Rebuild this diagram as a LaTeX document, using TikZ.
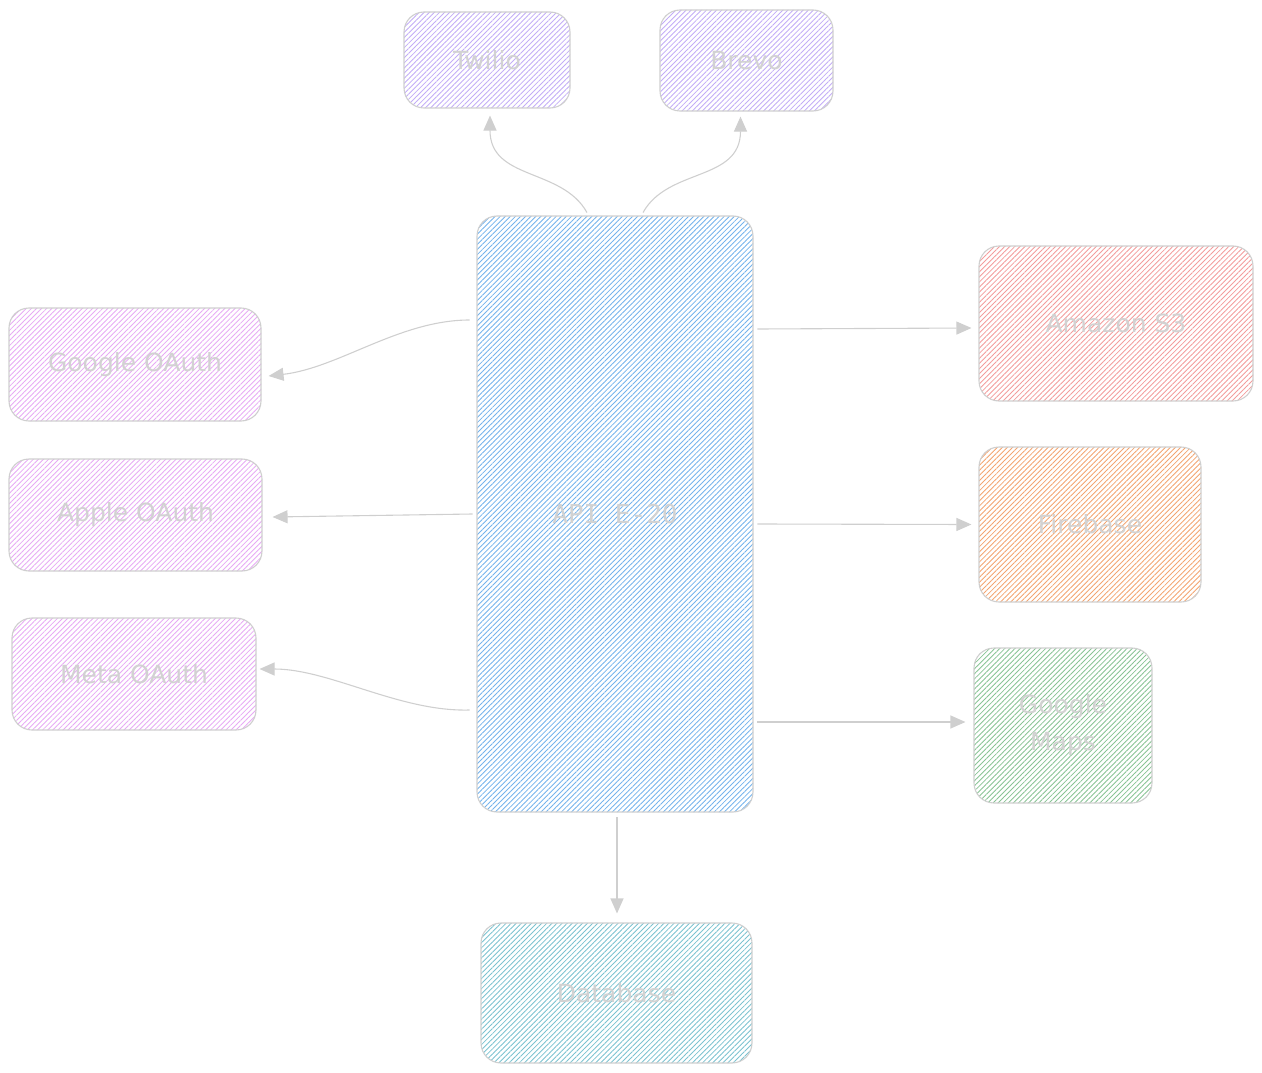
\documentclass[tikz,border=0pt]{standalone}
\usepackage{fontspec}
\setmainfont{DejaVu Sans}
\newfontfamily\codefont{DejaVu Sans Mono}
\usetikzlibrary{arrows.meta,patterns.meta,calc}

\definecolor{rimgray}{HTML}{CFCFCF}
\definecolor{labelgray}{HTML}{D2D2D2}
\definecolor{hatchapi}{HTML}{74B3EC}
\definecolor{hatchmsg}{HTML}{C2ACF6}
\definecolor{hatchauth}{HTML}{E7AAF4}
\definecolor{hatchsss}{HTML}{F39C9C}
\definecolor{hatchfire}{HTML}{F3A470}
\definecolor{hatchmaps}{HTML}{88C394}
\definecolor{hatchdb}{HTML}{7BC2D0}

\tikzset{
	svc/.style={draw=rimgray, line width=1.1pt, rounded corners=20pt, inner sep=0pt,
		text=labelgray, font=\fontsize{25}{37}\selectfont, align=center,
		pattern={Lines[angle=45,distance=3.6pt,line width=0.85pt]}, pattern color=#1},
	link/.style={draw=rimgray, line width=1.1pt, -{Triangle[length=15pt,width=13pt]}}
}

\begin{document}
\begin{tikzpicture}[x=1pt,y=-1pt]
		\useasboundingbox ( 0, 0 ) rectangle ( 1262, 1073 );

		% центральный сервис
		\node [svc=hatchapi, minimum width=276pt, minimum height=596pt] (api) at ( 615, 514 ) {\codefont\fontsize{26}{30}\selectfont API E-20};

		% сообщения
		\node [svc=hatchmsg, minimum width=166pt, minimum height=96pt]  (twilio) at ( 487, 60 )   {Twilio};
		\node [svc=hatchmsg, minimum width=173pt, minimum height=101pt] (brevo)  at ( 746.5, 60.5 ) {Brevo};

		% авторизация
		\node [svc=hatchauth, minimum width=252pt, minimum height=113pt] (google) at ( 135, 364.5 ) {Google OAuth};
		\node [svc=hatchauth, minimum width=253pt, minimum height=112pt] (apple)  at ( 135.5, 515 ) {Apple OAuth};
		\node [svc=hatchauth, minimum width=244pt, minimum height=112pt] (meta)   at ( 134, 674 )   {Meta OAuth};

		% внешние сервисы
		\node [svc=hatchsss,  minimum width=274pt, minimum height=155pt] (sss)  at ( 1116, 323.5 ) {Amazon S3};
		\node [svc=hatchfire, minimum width=222pt, minimum height=155pt] (fire) at ( 1090, 524.5 ) {Firebase};
		\node [svc=hatchmaps, minimum width=178pt, minimum height=155pt] (maps) at ( 1063, 725.5 ) {Google\\Maps};

		% база данных
		\node [svc=hatchdb, minimum width=271pt, minimum height=140pt] (db) at ( 616.5, 993 ) {Database};

		% связи вверх
		\draw [link] ($ (api.north) + ( -28, -3 ) $) .. controls +( -25, -45 ) and +( 0, 65 ) .. ($ (twilio.south) + ( 3, 7 ) $);
		\draw [link] ($ (api.north) + ( 28, -3 ) $)  .. controls +( 25, -45 ) and +( 0, 65 ) ..  ($ (brevo.south) + ( -6, 5 ) $);

		% связи влево
		\draw [link] ($ (api.west) + ( -7, -194 ) $) .. controls +( -70, 0 ) and +( 70, -8 ) .. ($ (google.east) + ( 7, 11.5 ) $);
		\draw [link] ($ (api.west) + ( -4, 0 ) $) -- ($ (apple.east) + ( 10, 2 ) $);
		\draw [link] ($ (api.west) + ( -7, 196 ) $)  .. controls +( -70, 2 ) and +( 70, 0 ) ..   ($ (meta.east) + ( 3, -5 ) $);

		% связи вправо
		\draw [link] ($ (api.east) + ( 4, -185 ) $) -- ($ (sss.west) + ( -7, 4.5 ) $);
		\draw [link] ($ (api.east) + ( 4, 10 ) $)   -- ($ (fire.west) + ( -7, 0 ) $);
		\draw [link] ($ (api.east) + ( 4, 208 ) $)  -- ($ (maps.west) + ( -8, -3.5 ) $);

		% связь вниз
		\draw [link] ($ (api.south) + ( 2, 5 ) $) -- ($ (db.north) + ( 0.5, -9 ) $);
\end{tikzpicture}
\end{document}
